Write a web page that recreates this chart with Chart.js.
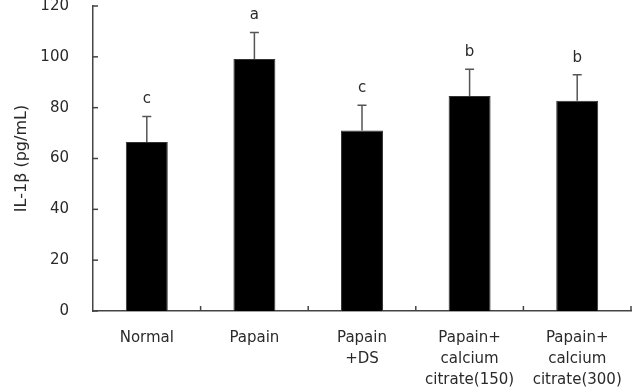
<!DOCTYPE html>
<html>
<head>
<meta charset="utf-8">
<script src="https://cdn.jsdelivr.net/npm/chart.js@4/dist/chart.umd.min.js"></script>
<style>
html,body{margin:0;padding:0;background:#fff;}
#wrap{width:639px;height:390px;}
</style>
</head>
<body>
<div id="wrap"><canvas id="c" width="639" height="390"></canvas></div>
<script>
const categories = [["Normal"], ["Papain"], ["Papain", "+DS"], ["Papain+", "calcium", "citrate(150)"], ["Papain+", "calcium", "citrate(300)"]];
const means = [66.5, 99.1, 71.0, 84.6, 82.7];
const errors = [10.0, 10.5, 10.0, 10.5, 10.3];
const letters = ["c", "a", "c", "b", "b"];
const yTicks = [0, 20, 40, 60, 80, 100, 120];

const FONT = "'DejaVu Sans', 'Liberation Sans', Arial, sans-serif";
const TXT = '#2a2a2a';
const AXIS = '#444';

const decor = {
  id: 'decor',
  afterDatasetsDraw(chart) {
    const ctx = chart.ctx;
    const x = chart.scales.x, y = chart.scales.y;
    ctx.save();
    ctx.strokeStyle = '#555';
    ctx.lineWidth = 1.5;
    means.forEach((m, i) => {
      const px = x.getPixelForValue(i);
      const y0 = y.getPixelForValue(m);
      const y1 = y.getPixelForValue(m + errors[i]);
      ctx.beginPath();
      ctx.moveTo(px, y0);
      ctx.lineTo(px, y1);
      ctx.moveTo(px - 4.5, y1);
      ctx.lineTo(px + 4.5, y1);
      ctx.stroke();
      ctx.fillStyle = TXT;
      ctx.font = '15px ' + FONT;
      ctx.textAlign = 'center';
      ctx.textBaseline = 'middle';
      ctx.fillText(letters[i], px, y1 - 17);
    });
    ctx.strokeStyle = AXIS;
    ctx.lineWidth = 1.5;
    const area = chart.chartArea;
    yTicks.forEach(v => {
      const py = y.getPixelForValue(v);
      ctx.beginPath();
      ctx.moveTo(area.left, py);
      ctx.lineTo(area.left + 5, py);
      ctx.stroke();
    });
    const n = categories.length;
    const step = x.getPixelForValue(1) - x.getPixelForValue(0);
    for (let i = 1; i <= n; i++) {
      const px = x.getPixelForValue(i - 1) + step / 2;
      ctx.beginPath();
      ctx.moveTo(px, area.bottom);
      ctx.lineTo(px, area.bottom - 5);
      ctx.stroke();
    }
    ctx.restore();
  }
};

new Chart(document.getElementById('c'), {
  type: 'bar',
  data: {
    labels: categories,
    datasets: [{
      data: means,
      backgroundColor: '#000',
      borderColor: '#333',
      borderWidth: 1,
      barPercentage: 0.39,
      categoryPercentage: 1.0
    }]
  },
  options: {
    responsive: false,
    animation: false,
    devicePixelRatio: 1,
    layout: { padding: { top: 6, right: 8, left: 0, bottom: 0 } },
    plugins: { legend: { display: false }, tooltip: { enabled: false } },
    scales: {
      x: {
        offset: true,
        grid: { display: false, offset: true },
        border: { display: true, color: AXIS, width: 1.5 },
        ticks: { color: TXT, font: { family: FONT, size: 15, lineHeight: 1.4 }, padding: 9, maxRotation: 0, autoSkip: false },
        afterFit(s) { s.height = 79; }
      },
      y: {
        min: 0, max: 120,
        grid: { display: false },
        border: { display: true, color: AXIS, width: 1.5 },
        afterBuildTicks(s) { s.ticks = yTicks.map(v => ({ value: v })); },
        ticks: { color: TXT, font: { family: FONT, size: 15 }, padding: 16 },
        title: { display: true, text: 'IL-1β (pg/mL)', color: TXT, font: { family: FONT, size: 16 }, padding: { top: 12, bottom: 0 } },
        afterFit(s) { s.width = 93; s.paddingTop = 0; s.paddingBottom = 0; }
      }
    }
  },
  plugins: [decor]
});
</script>
</body>
</html>
